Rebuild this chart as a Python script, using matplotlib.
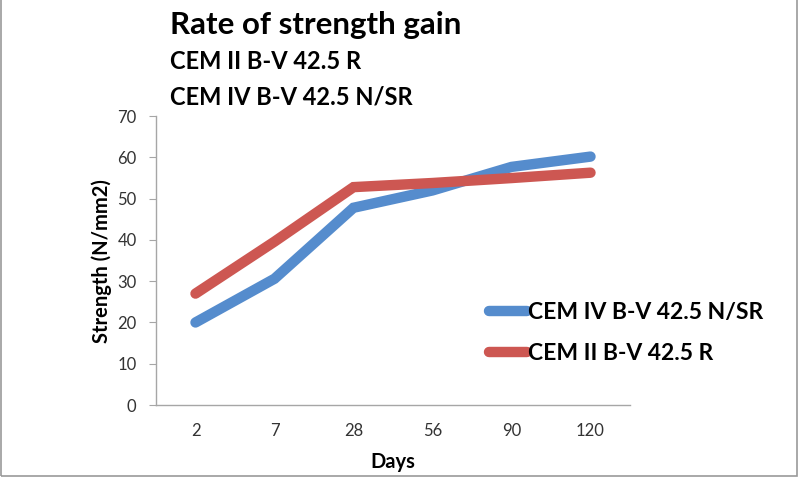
import matplotlib
matplotlib.use("Agg")
import matplotlib.pyplot as plt
from matplotlib.patches import Rectangle

days = ["2", "7", "28", "56", "90", "120"]
cem_iv = [20, 30.6, 47.8, 52, 57.7, 60.2]
cem_ii = [27, 39.6, 52.8, 53.8, 55, 56.3]
yticks = [0, 10, 20, 30, 40, 50, 60, 70]

FONT = ["Lato", "DejaVu Sans"]
plt.rcParams["font.family"] = FONT

fig = plt.figure(figsize=(8, 4.78), dpi=100)
ax = fig.add_axes([0.195, 0.1527, 0.5925, 0.6043])

x = list(range(len(days)))
l1, = ax.plot(x, cem_iv, color="#558CCD", lw=7.5, solid_capstyle="round", solid_joinstyle="miter",
              label="CEM IV B-V 42.5 N/SR")
l2, = ax.plot(x, cem_ii, color="#CD5752", lw=7.5, solid_capstyle="round", solid_joinstyle="miter",
              label="CEM II B-V 42.5 R")

ax.set_xlim(-0.5, len(days) - 0.5)
ax.set_ylim(0, 70)
ax.set_yticks(yticks)
ax.set_xticks(x)
ax.set_xticklabels(days)
for s in ["top", "right"]:
    ax.spines[s].set_visible(False)
for s in ["left", "bottom"]:
    ax.spines[s].set_color("#A6A6A6")
    ax.spines[s].set_linewidth(1)
ax.tick_params(axis="y", length=5, color="#A6A6A6", labelsize=12, labelcolor="#333333", pad=9)
ax.tick_params(axis="x", length=0, labelsize=12, labelcolor="#333333", pad=13)
ax.set_ylabel("Strength (N/mm2)", fontsize=14.5, fontweight="bold", labelpad=4)
ax.set_xlabel("Days", fontsize=14.5, fontweight="bold", labelpad=9)

fig.text(0.2125, 0.948, "Rate of strength gain", fontsize=22.5, fontweight="bold", va="center", ha="left")
fig.text(0.2125, 0.872, "CEM II B-V 42.5 R", fontsize=17, fontweight="bold", va="center", ha="left")
fig.text(0.2125, 0.798, "CEM IV B-V 42.5 N/SR", fontsize=17, fontweight="bold", va="center", ha="left")

leg = fig.legend(handles=[l1, l2], loc="center left", bbox_to_anchor=(0.586, 0.303),
                 frameon=False, handlelength=1.65, handletextpad=0.05,
                 labelspacing=0.85, prop={"family": FONT, "weight": "bold", "size": 16.5})

fig.patches.append(Rectangle((0.001, 0.004), 0.995, 1.2, transform=fig.transFigure,
                             fill=False, edgecolor="#9A9A9A", lw=1.2))
fig.savefig("out.png", dpi=100)
